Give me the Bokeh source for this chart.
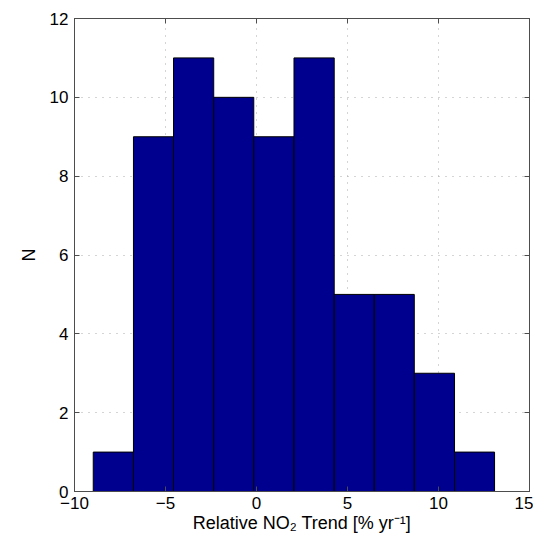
from bokeh.plotting import figure
from bokeh.models import Range1d, LinearAxis, FixedTicker, CustomJSTickFormatter
from bokeh.embed import file_html
from bokeh.resources import INLINE

# Histogram data
bin_edges = [-8.97, -6.76, -4.56, -2.35, -0.15, 2.06, 4.27, 6.47, 8.67, 10.88, 13.08]
counts = [1, 9, 11, 10, 9, 11, 5, 5, 3, 1]
x_ticks = [-10, -5, 0, 5, 10, 15]
y_ticks = [0, 2, 4, 6, 8, 10, 12]

FONT = "Liberation Sans"
AXIS_COLOR = "#4d4d4d"

p = figure(width=533, height=536, output_backend="svg", toolbar_location=None,
           x_range=Range1d(-10, 15), y_range=Range1d(0, 12),
           min_border_left=74, min_border_right=4, min_border_top=18, min_border_bottom=45)

p.outline_line_color = AXIS_COLOR
p.outline_line_width = 1
p.background_fill_color = "white"
p.border_fill_color = "white"

p.quad(left=bin_edges[:-1], right=bin_edges[1:], top=counts, bottom=0,
       fill_color="#00008F", line_color="black", line_width=1)

fmt = CustomJSTickFormatter(code="return tick < 0 ? '\u2212' + Math.abs(tick) : tick.toString();")

for ax, ticks in ((p.xaxis[0], x_ticks), (p.yaxis[0], y_ticks)):
    ax.ticker = FixedTicker(ticks=ticks)
    ax.formatter = fmt
    ax.major_tick_in = 5
    ax.major_tick_out = 0
    ax.minor_tick_line_color = None
    ax.axis_line_color = AXIS_COLOR
    ax.major_tick_line_color = AXIS_COLOR
    ax.major_label_text_font = FONT
    ax.major_label_text_font_size = "17px"
    ax.major_label_text_color = "black"
    ax.axis_label_text_font = FONT
    ax.axis_label_text_font_size = "18px"
    ax.axis_label_text_font_style = "normal"
    ax.axis_label_text_color = "black"

p.xaxis[0].axis_label = "Relative NO\u2082 Trend [% yr\u207b\u00b9]"
p.xaxis[0].major_label_standoff = 5
p.xaxis[0].axis_label_standoff = 1
p.yaxis[0].axis_label = "N"
p.yaxis[0].major_label_standoff = 6
p.yaxis[0].axis_label_standoff = 8

blank = CustomJSTickFormatter(code="return '';")
top_ax = LinearAxis(ticker=FixedTicker(ticks=x_ticks), formatter=blank)
right_ax = LinearAxis(ticker=FixedTicker(ticks=y_ticks), formatter=blank)
for ax in (top_ax, right_ax):
    ax.major_tick_in = 5
    ax.major_tick_out = 0
    ax.minor_tick_line_color = None
    ax.axis_line_color = AXIS_COLOR
    ax.major_tick_line_color = AXIS_COLOR
    ax.major_label_text_font_size = "1px"
    ax.major_label_standoff = 0
p.add_layout(top_ax, "above")
p.add_layout(right_ax, "right")

for g in (p.xgrid[0], p.ygrid[0]):
    g.grid_line_color = "#aaaaaa"
    g.grid_line_dash = "1 6"
    g.grid_line_width = 1
p.xgrid[0].ticker = FixedTicker(ticks=x_ticks)
p.ygrid[0].ticker = FixedTicker(ticks=y_ticks)

open("out.html", "w").write(file_html(p, INLINE))
